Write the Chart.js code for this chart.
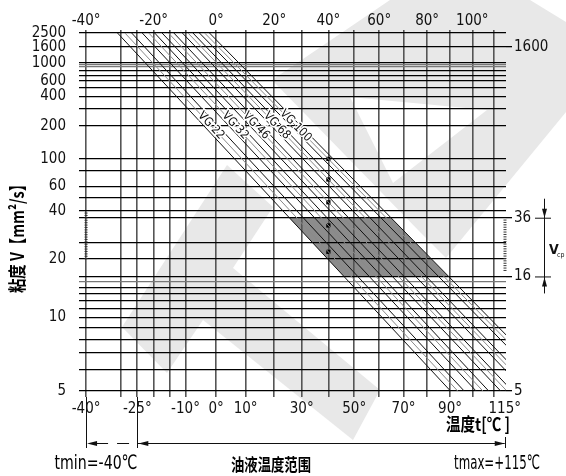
<!DOCTYPE html>
<html>
<head>
<meta charset="utf-8">
<script src="https://cdn.jsdelivr.net/npm/chart.js@4.4.1/dist/chart.umd.min.js"></script>
<style>
  body { margin: 0; background: #fff; }
</style>
</head>
<body>
<canvas id="chart" width="566" height="476"></canvas>
<script>
// horizontal grid lines (mm2/s) and which ones get a label
const viscLines = [5, 6, 7, 8, 9, 10, 11, 12, 13, 14, 15, 16, 20, 25, 36, 40, 50, 60, 80, 100, 200, 300, 400, 500, 600, 700, 800, 900, 950, 1000, 1600, 2500];
const viscGray = [15, 900, 950];
const viscLabelsLeft = [5, 10, 20, 40, 60, 100, 200, 400, 600, 1000, 1600, 2500];
const viscLabelsRight = [5, 16, 36, 1600];
// vertical grid lines (deg C) and tick labels
const tempLines = [-40, -30, -25, -20, -15, -10, 0, 10, 20, 30, 40, 50, 60, 70, 80, 90, 100, 110];
const tempLabelsBottom = [-40, -25, -10, 0, 10, 30, 50, 70, 90, 115];
const tempLabelsTop = [-40, -20, 0, 20, 40, 60, 80, 100];
const tempRange = [-42, 115.6];
const viscRange = [5, 2500];

// ISO grades, viscosity at 40 C (the dots), and for each line [-10%, nominal, +10%]
// the temperature where it leaves 2500 mm2/s and where it reaches 5 mm2/s
const grades = ['VG 22', 'VG 32', 'VG 46', 'VG 68', 'VG 100'];
const visc40 = [22, 32, 46, 68, 100];
const tempAt2500 = [[-30.9, -28.7, -26.7], [-23.5, -21.5, -19.7], [-17.4, -15.4, -13.7], [-11.0, -9.2, -7.6], [-5.5, -3.8, -2.2]];
const tempAt5 = [[90.2, 93.4, 96.3], [101.7, 104.8, 107.5], [113.1, 116.0, 118.6], [124.9, 127.7, 130.1], [137.5, 140.2, 142.6]];
const optRange = [16, 36];            // v_cp
const oilRange = [-40, -25, 115];     // tmin, start of range, tmax

// chart coordinates: log of absolute temperature, Walther log-log of viscosity
const X = t => Math.log10(t + 273.15);
const Y = v => Math.log10(Math.log10(v + 0.7));

const xTicks = [...new Set([...tempLines, ...tempLabelsBottom])].sort((a, b) => a - b);
const lineOf = (g, k) => [{ x: X(tempAt2500[g][k]), y: Y(viscRange[1]) }, { x: X(tempAt5[g][k]), y: Y(viscRange[0]) }];
const xAt = (ln, yv) => ln[0].x + (yv - ln[0].y) * (ln[1].x - ln[0].x) / (ln[1].y - ln[0].y);

const NARROW = '"Liberation Sans Narrow", "Arial Narrow", "DejaVu Sans Condensed", "Noto Sans CJK SC", sans-serif';
const CJK = '"Noto Sans CJK SC", sans-serif';

const datasets = [];
grades.forEach((g, i) => {
  for (let k = 0; k < 3; k++) {
    datasets.push({
      data: lineOf(i, k),
      showLine: true,
      borderColor: k === 1 ? '#8a8a8a' : '#111',
      borderWidth: 1,
      pointRadius: 0
    });
  }
});
datasets.push({
  data: visc40.map(v => ({ x: X(40), y: Y(v) })),
  pointStyle: 'rect',
  pointRadius: 3,
  backgroundColor: '#000',
  borderWidth: 0
});

function arrowHead(ctx, tx, ty, dx, dy, len, half) {
  ctx.beginPath();
  ctx.moveTo(tx, ty);
  ctx.lineTo(tx - dx * len - dy * half, ty - dy * len + dx * half);
  ctx.lineTo(tx - dx * len + dy * half, ty - dy * len - dx * half);
  ctx.closePath();
  ctx.fill();
}

function poly(ctx, pts) {
  pts.forEach(([a, b], i) => i ? ctx.lineTo(a, b) : ctx.moveTo(a, b));
  ctx.closePath();
}

// text squeezed to a given width, like the narrow drawing font
function fitText(ctx, text, cx, cy, width, font) {
  ctx.save();
  ctx.font = font;
  const w = ctx.measureText(text).width;
  ctx.translate(cx, cy);
  ctx.scale(Math.min(1, width / w), 1);
  ctx.textAlign = 'center';
  ctx.textBaseline = 'middle';
  ctx.fillText(text, 0, 0);
  ctx.restore();
}

const deco = {
  id: 'deco',
  beforeDraw(chart) {
    const ctx = chart.ctx, xs = chart.scales.x, ys = chart.scales.y;
    ctx.save();
    ctx.fillStyle = '#fff';
    ctx.fillRect(0, 0, chart.width, chart.height);
    // watermark
    ctx.fillStyle = '#e8e8e8';
    ctx.beginPath();
    poly(ctx, [[227, 165], [273, 207], [233, 268], [380, 390], [353, 440], [203, 320], [167, 373], [122, 327]]);
    ctx.fill();
    ctx.beginPath();
    poly(ctx, [[272, 80], [390, 0], [530, 0], [566, 22], [566, 112], [446, 258], [420, 232]]);
    poly(ctx, [[350, 97], [487, 110], [393, 183]]);
    ctx.fill('evenodd');
    // v_cp band between the outermost grade lines
    const lo = lineOf(0, 0), hi = lineOf(grades.length - 1, 2);
    const ya = Y(optRange[1]), yb = Y(optRange[0]);
    const pts = [[xAt(lo, ya), ya], [xAt(hi, ya), ya], [xAt(hi, yb), yb], [xAt(lo, yb), yb]]
      .map(([a, b]) => [xs.getPixelForValue(a), ys.getPixelForValue(b)]);
    ctx.fillStyle = '#8c8c8c';
    ctx.beginPath();
    poly(ctx, pts);
    ctx.fill();
    ctx.restore();
  },
  afterDraw(chart) {
    const ctx = chart.ctx, xs = chart.scales.x, ys = chart.scales.y, area = chart.chartArea;
    ctx.save();

    // grade labels along the nominal lines
    grades.forEach((g, i) => {
      const ln = lineOf(i, 1);
      const yv = Y(200);
      const px = xs.getPixelForValue(xAt(ln, yv)), py = ys.getPixelForValue(yv);
      const ang = Math.atan2(ys.getPixelForValue(ln[1].y) - ys.getPixelForValue(ln[0].y),
                             xs.getPixelForValue(ln[1].x) - xs.getPixelForValue(ln[0].x));
      ctx.save();
      ctx.translate(px, py);
      ctx.rotate(ang);
      ctx.font = '12px ' + NARROW;
      ctx.textAlign = 'center';
      ctx.textBaseline = 'middle';
      ctx.lineWidth = 3;
      ctx.strokeStyle = '#fff';
      ctx.strokeText(g, 0, 0);
      ctx.fillStyle = '#111';
      ctx.fillText(g, 0, 0);
      ctx.restore();
    });

    // fine scale marks
    ctx.strokeStyle = '#333';
    ctx.lineWidth = 1;
    const fine = (x0, v1, v2) => {
      const y1 = ys.getPixelForValue(Y(v1)), y2 = ys.getPixelForValue(Y(v2));
      for (let yy = y1; yy < y2; yy += 2.4) {
        ctx.beginPath();
        ctx.moveTo(x0 - 1.5, yy + 0.5);
        ctx.lineTo(x0 + 1.5, yy + 0.5);
        ctx.stroke();
      }
    };
    fine(xs.getPixelForValue(X(-40)), 39, 20);
    fine(area.right - 1, 35, 17);

    // v_cp dimension
    ctx.strokeStyle = '#111';
    ctx.fillStyle = '#111';
    const dx = area.right + 38;
    const y36 = ys.getPixelForValue(Y(optRange[1])), y16 = ys.getPixelForValue(Y(optRange[0]));
    ctx.beginPath();
    ctx.moveTo(dx + 0.5, y36 - 19); ctx.lineTo(dx + 0.5, y16 + 17);
    ctx.moveTo(dx - 9, y36 + 0.5); ctx.lineTo(dx + 7, y36 + 0.5);
    ctx.moveTo(dx - 9, y16 + 0.5); ctx.lineTo(dx + 7, y16 + 0.5);
    ctx.stroke();
    arrowHead(ctx, dx + 0.5, y36, 0, 1, 9, 2.5);
    arrowHead(ctx, dx + 0.5, y16 + 1, 0, -1, 9, 2.5);
    ctx.textAlign = 'left';
    ctx.textBaseline = 'alphabetic';
    ctx.font = 'bold 14px ' + NARROW;
    ctx.fillText('V', dx + 5, (y36 + y16) / 2 + 7);
    ctx.font = '7px ' + NARROW;
    ctx.fillText('cp', dx + 13, (y36 + y16) / 2 + 10);

    // oil temperature range dimension
    const xa = xs.getPixelForValue(X(oilRange[0])), xb = xs.getPixelForValue(X(oilRange[1])), xc = xs.getPixelForValue(X(oilRange[2]));
    const yd = 443;
    ctx.beginPath();
    ctx.moveTo(Math.round(xa) + 0.5, area.bottom + 6); ctx.lineTo(Math.round(xa) + 0.5, yd + 5);
    ctx.moveTo(Math.round(xb) + 0.5, area.bottom + 6); ctx.lineTo(Math.round(xb) + 0.5, yd + 5);
    ctx.moveTo(Math.round(xc) + 0.5, yd - 6); ctx.lineTo(Math.round(xc) + 0.5, yd + 5);
    ctx.moveTo(xb, yd + 0.5); ctx.lineTo(xc, yd + 0.5);
    ctx.stroke();
    ctx.setLineDash([12, 9]);
    ctx.beginPath();
    ctx.moveTo(xa + 10, yd + 0.5); ctx.lineTo(xb, yd + 0.5);
    ctx.stroke();
    ctx.setLineDash([]);
    arrowHead(ctx, xa + 1, yd + 0.5, -1, 0, 10, 2.5);
    arrowHead(ctx, xb + 1, yd + 0.5, -1, 0, 10, 2.5);
    arrowHead(ctx, xc, yd + 0.5, 1, 0, 10, 2.5);

    ctx.fillStyle = '#000';
    fitText(ctx, 'tmin=-40℃', 96, 464, 83, '20px ' + NARROW);
    fitText(ctx, 'tmax=+115℃', 497, 464, 86, '20px ' + NARROW);
    fitText(ctx, '油液温度范围', 271, 465, 80, 'bold 17px ' + CJK);
    fitText(ctx, '温度t[℃ ]', 478, 424, 64, 'bold 18px ' + CJK);

    // y axis title
    ctx.save();
    ctx.translate(17, 235);
    ctx.rotate(-Math.PI / 2);
    fitText(ctx, '粘度 V【mm²/s】', 0, 0, 116, 'bold 18px ' + CJK);
    ctx.restore();

    ctx.restore();
  }
};

const tickFont = { family: NARROW, size: 15 };

new Chart(document.getElementById('chart'), {
  type: 'scatter',
  data: { datasets },
  options: {
    responsive: false,
    animation: false,
    events: [],
    plugins: { legend: { display: false }, tooltip: { enabled: false } },
    scales: {
      x: {
        type: 'linear', position: 'bottom', bounds: 'data',
        min: X(tempRange[0]), max: X(tempRange[1]),
        afterBuildTicks: s => { s.ticks = xTicks.map(t => ({ value: X(t) })); },
        afterFit: s => { s.height = 85; },
        ticks: {
          autoSkip: false, maxRotation: 0, padding: 3, color: '#111', font: tickFont,
          callback: (v, i) => tempLabelsBottom.includes(xTicks[i]) ? xTicks[i] + '°' : ''
        },
        grid: {
          color: c => tempLines.includes(xTicks[c.index]) ? '#555' : 'rgba(0,0,0,0)',
          lineWidth: 1.6, tickLength: 6
        },
        border: { display: false }
      },
      x2: {
        type: 'linear', position: 'top', bounds: 'data',
        min: X(tempRange[0]), max: X(tempRange[1]),
        afterBuildTicks: s => { s.ticks = xTicks.map(t => ({ value: X(t) })); },
        afterFit: s => { s.height = 33; },
        ticks: {
          autoSkip: false, maxRotation: 0, padding: 0, color: '#111', font: tickFont,
          callback: (v, i) => tempLabelsTop.includes(xTicks[i]) ? xTicks[i] + '°' : ''
        },
        grid: {
          drawOnChartArea: false,
          color: c => tempLines.includes(xTicks[c.index]) ? '#555' : 'rgba(0,0,0,0)',
          lineWidth: 1.6, tickLength: 3
        },
        border: { display: false }
      },
      y: {
        type: 'linear', position: 'left', bounds: 'data',
        min: Y(viscRange[0]), max: Y(viscRange[1]),
        afterBuildTicks: s => { s.ticks = viscLines.map(v => ({ value: Y(v) })); },
        afterFit: s => { s.width = 79; },
        ticks: {
          autoSkip: false, padding: 13, color: '#111', font: tickFont,
          callback: (v, i) => viscLabelsLeft.includes(viscLines[i]) ? String(viscLines[i]) : ''
        },
        grid: {
          color: c => viscGray.includes(viscLines[c.index]) ? '#777' : '#000',
          lineWidth: 1.3, drawTicks: false
        },
        border: { display: false }
      },
      y2: {
        type: 'linear', position: 'right', bounds: 'data',
        min: Y(viscRange[0]), max: Y(viscRange[1]),
        afterBuildTicks: s => { s.ticks = viscLabelsRight.map(v => ({ value: Y(v) })); },
        afterFit: s => { s.width = 60; },
        ticks: {
          autoSkip: false, padding: 2, color: '#111', font: tickFont,
          callback: (v, i) => String(viscLabelsRight[i])
        },
        grid: { drawOnChartArea: false, color: '#000', lineWidth: 1.3, tickLength: 6 },
        border: { display: false }
      }
    }
  },
  plugins: [deco]
});
</script>
</body>
</html>
